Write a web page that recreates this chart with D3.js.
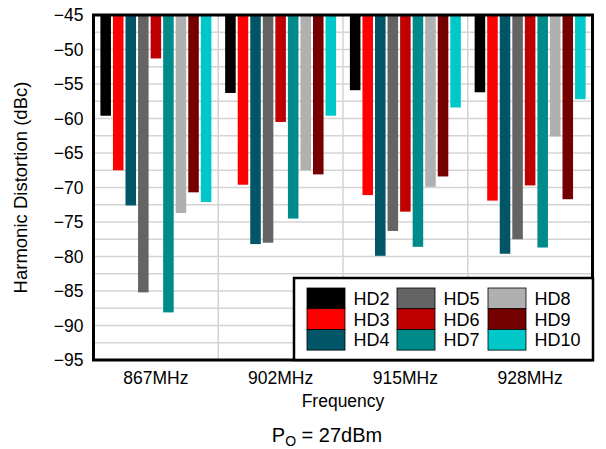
<!DOCTYPE html>
<html>
<head>
<meta charset="utf-8">
<script src="https://cdn.jsdelivr.net/npm/d3@7"></script>
<style>
  html, body { margin: 0; padding: 0; background: #ffffff; }
  svg { display: block; font-family: Arial, "Liberation Sans", sans-serif; }
</style>
</head>
<body>
<svg id="chart" width="606" height="449"></svg>
<script>
// Harmonic distortion per frequency, P_O = 27 dBm
const frequencies = ["867MHz", "902MHz", "915MHz", "928MHz"];
const harmonics = ["HD2", "HD3", "HD4", "HD5", "HD6", "HD7", "HD8", "HD9", "HD10"];
const hd2  = [-59.6, -56.3, -55.9, -56.2];
const hd3  = [-67.5, -69.6, -71.1, -71.9];
const hd4  = [-72.6, -78.2, -79.9, -79.6];
const hd5  = [-85.2, -78.0, -76.3, -77.5];
const hd6  = [-51.3, -60.5, -73.5, -69.7];
const hd7  = [-88.1, -74.5, -78.6, -78.7];
const hd8  = [-73.7, -67.5, -69.9, -62.6];
const hd9  = [-70.7, -68.1, -68.4, -71.7];
const hd10 = [-72.1, -59.6, -58.4, -57.2];
const seriesValues = [hd2, hd3, hd4, hd5, hd6, hd7, hd8, hd9, hd10];
const seriesColors = ["#000000", "#ff0000", "#005566", "#646464", "#bf0000",
                      "#008b8b", "#b0b0b0", "#750000", "#00c8c8"];
const yTickValues = [-45, -50, -55, -60, -65, -70, -75, -80, -85, -90, -95];

const svg = d3.select("#chart");
const plot = { left: 93.5, right: 592.5, top: 15, bottom: 360 };

const x0 = d3.scaleBand().domain(frequencies).range([plot.left, plot.right]).padding(0);
const x1 = d3.scaleBand().domain(harmonics).range([0, x0.bandwidth()])
  .paddingInner(0.16).paddingOuter(0.55);
const y = d3.scaleLinear().domain([-45, -95]).range([plot.top, plot.bottom]);

// horizontal grid every 2.5 dB
const gridVals = d3.range(-47.5, -95, -2.5);
svg.append("g").selectAll("line").data(gridVals).join("line")
  .attr("x1", plot.left).attr("x2", plot.right)
  .attr("y1", d => y(d)).attr("y2", d => y(d))
  .attr("stroke", "#d4d4d4").attr("stroke-width", 1.5);

// vertical separators between frequency groups
svg.append("g").selectAll("line").data(frequencies.slice(1)).join("line")
  .attr("x1", d => x0(d)).attr("x2", d => x0(d))
  .attr("y1", plot.top).attr("y2", plot.bottom)
  .attr("stroke", "#d4d4d4").attr("stroke-width", 1.5);

// bars hang from the -45 dBc reference
const groups = svg.append("g").selectAll("g").data(frequencies).join("g")
  .attr("transform", d => `translate(${x0(d)},0)`);
groups.selectAll("rect")
  .data((f, fi) => harmonics.map((h, hi) => ({ h, v: seriesValues[hi][fi], c: seriesColors[hi] })))
  .join("rect")
  .attr("x", d => x1(d.h))
  .attr("width", x1.bandwidth())
  .attr("y", y(-45))
  .attr("height", d => y(d.v) - y(-45))
  .attr("fill", d => d.c);

// plot frame
svg.append("rect")
  .attr("x", plot.left).attr("y", plot.top)
  .attr("width", plot.right - plot.left).attr("height", plot.bottom - plot.top)
  .attr("fill", "none").attr("stroke", "#000").attr("stroke-width", 3);

// y axis labels
const yAxis = d3.axisLeft(y).tickValues(yTickValues).tickSize(0).tickPadding(10)
  .tickFormat(d => d3.format("d")(d));
const yg = svg.append("g").attr("transform", `translate(${plot.left},0)`).call(yAxis);
yg.select(".domain").remove();
yg.selectAll("text").attr("font-size", 17.5).attr("fill", "#000")
  .attr("font-family", "Arial, 'Liberation Sans', sans-serif");

// x axis labels
const xAxis = d3.axisBottom(x0).tickSize(0).tickPadding(12);
const xg = svg.append("g").attr("transform", `translate(0,${plot.bottom})`).call(xAxis);
xg.select(".domain").remove();
xg.selectAll("text").attr("font-size", 17.5).attr("fill", "#000")
  .attr("font-family", "Arial, 'Liberation Sans', sans-serif");

// axis titles
svg.append("text")
  .attr("transform", `translate(27,${(plot.top + plot.bottom) / 2}) rotate(-90)`)
  .attr("text-anchor", "middle").attr("font-size", 18.5)
  .text("Harmonic Distortion (dBc)");
svg.append("text")
  .attr("x", (plot.left + plot.right) / 2).attr("y", 407)
  .attr("text-anchor", "middle").attr("font-size", 17.5)
  .text("Frequency");

const po = svg.append("text").attr("x", 327).attr("y", 442)
  .attr("text-anchor", "middle").attr("font-size", 20);
po.append("tspan").text("P");
po.append("tspan").attr("font-size", 14).attr("dy", 4).text("O");
po.append("tspan").attr("dy", -4).text(" = 27dBm");

// legend
const legend = { x: 294, y: 278, w: 299, h: 82 };
svg.append("rect")
  .attr("x", legend.x).attr("y", legend.y).attr("width", legend.w).attr("height", legend.h)
  .attr("fill", "#fff").attr("stroke", "#000").attr("stroke-width", 2.5);
const colX = [307, 397, 488];
const rowH = 20.7;
const items = svg.append("g").selectAll("g").data(harmonics).join("g")
  .attr("transform", (d, i) => `translate(${colX[Math.floor(i / 3)]},${288 + (i % 3) * rowH})`);
items.append("rect")
  .attr("width", 38).attr("height", rowH)
  .attr("fill", (d, i) => seriesColors[i])
  .attr("stroke", "#000").attr("stroke-width", 0.8);
items.append("text")
  .attr("x", 46.5).attr("y", 17)
  .attr("font-size", 18).text(d => d);
</script>
</body>
</html>
